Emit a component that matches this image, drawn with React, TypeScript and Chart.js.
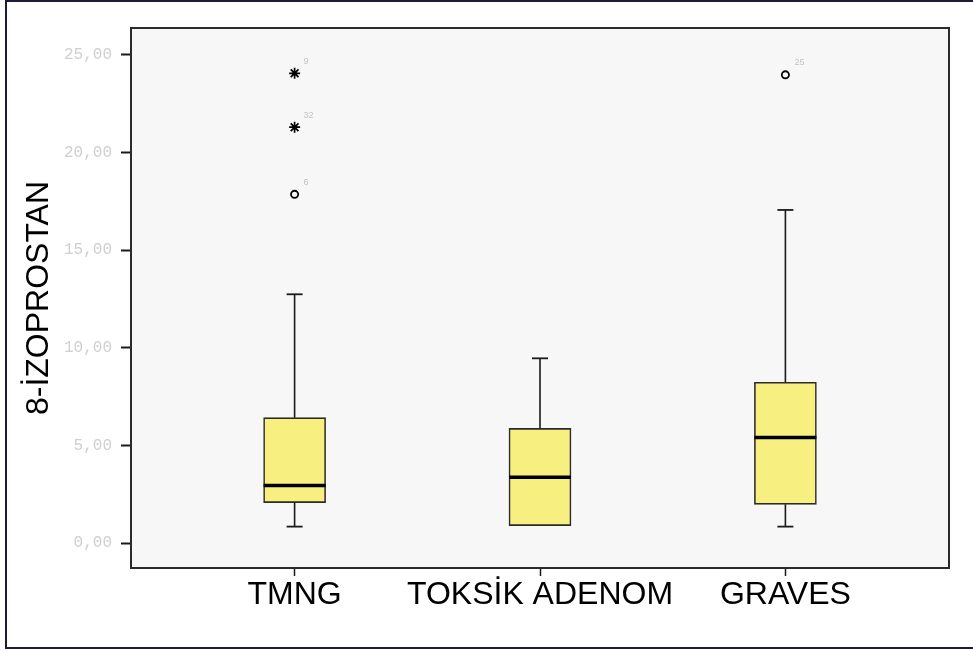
import React, { useEffect, useRef } from "react";
import { Chart, registerables } from "chart.js";

Chart.register(...registerables);

// Groups shown on the horizontal axis
const categories = ["TMNG", "TOKSİK ADENOM", "GRAVES"];

// Box-plot summary per group
const whiskerLow = [0.84, 0.89, 0.84];
const quartile1 = [2.07, 0.89, 1.98];
const medians = [2.94, 3.37, 5.41];
const quartile3 = [6.42, 5.87, 8.23];
const whiskerHigh = [12.74, 9.46, 17.06];

// Outliers (circles) and extremes (asterisks), with case numbers
const outlierGroup = [1, 3];
const outlierValue = [17.86, 23.98];
const outlierCase = ["6", "25"];
const extremeGroup = [1, 1];
const extremeValue = [24.06, 21.3];
const extremeCase = ["9", "32"];

// Value axis ticks
const yTicks = [0, 5, 10, 15, 20, 25];

const BOX_FILL = "rgb(247,240,128)";
const INK = "#1a1a1a";

const plotFrame = {
  id: "plotFrame",
  beforeDraw(chart: any) {
    const { ctx, chartArea: a } = chart;
    ctx.save();
    ctx.fillStyle = "#ffffff";
    ctx.fillRect(0, 0, chart.width, chart.height);
    ctx.fillStyle = "#f7f7f7";
    ctx.fillRect(a.left, a.top, a.right - a.left, a.bottom - a.top);
    ctx.restore();
  },
  afterDraw(chart: any) {
    const { ctx, chartArea: a } = chart;
    ctx.save();
    ctx.strokeStyle = "#2b2b2b";
    ctx.lineWidth = 2;
    ctx.strokeRect(a.left, a.top, a.right - a.left, a.bottom - a.top);
    ctx.strokeStyle = "#1c1c3a";
    ctx.lineWidth = 2;
    ctx.strokeRect(6, 1, 1000, 647);
    ctx.restore();
  },
};

const caseLabels = {
  id: "caseLabels",
  afterDatasetsDraw(chart: any) {
    const { ctx } = chart;
    ctx.save();
    ctx.font = "9px 'Liberation Sans'";
    ctx.fillStyle = "#c4c4c4";
    ctx.textAlign = "left";
    ctx.textBaseline = "middle";
    chart.data.datasets.forEach((ds: any, di: number) => {
      if (!ds.caseNumbers) return;
      const meta = chart.getDatasetMeta(di);
      meta.data.forEach((pt: any, i: number) => {
        ctx.fillText(ds.caseNumbers[i], pt.x + 9, pt.y - 12);
      });
    });
    ctx.restore();
  },
};

export default function App() {
  const ref = useRef<HTMLCanvasElement | null>(null);

  useEffect(() => {
    document.body.style.margin = "0";
    const canvas = ref.current;
    if (!canvas) return;

    const boxes = categories.map((_, i) => ({ x: i + 1, y: [quartile1[i], quartile3[i]] }));

    const whiskers: any[] = [];
    categories.forEach((_, i) => {
      whiskers.push({ x: i + 1, y: quartile3[i] }, { x: i + 1, y: whiskerHigh[i] }, { x: i + 1, y: null });
      if (whiskerLow[i] < quartile1[i]) {
        whiskers.push({ x: i + 1, y: whiskerLow[i] }, { x: i + 1, y: quartile1[i] }, { x: i + 1, y: null });
      }
    });

    const caps: any[] = [];
    categories.forEach((_, i) => {
      caps.push({ x: i + 1, y: whiskerHigh[i] });
      if (whiskerLow[i] < quartile1[i]) caps.push({ x: i + 1, y: whiskerLow[i] });
    });

    const chart = new Chart(canvas, {
      type: "bar",
      data: {
        datasets: [
          {
            type: "scatter",
            data: medians.map((m, i) => ({ x: i + 1, y: m })),
            pointStyle: "line",
            radius: 31,
            borderWidth: 3.5,
            borderColor: "#000000",
            order: 1,
          } as any,
          {
            type: "scatter",
            data: extremeValue.map((v, i) => ({ x: extremeGroup[i], y: v })),
            pointStyle: "star",
            radius: 5.5,
            borderWidth: 1.7,
            borderColor: "#000000",
            caseNumbers: extremeCase,
            order: 1,
          } as any,
          {
            type: "scatter",
            data: outlierValue.map((v, i) => ({ x: outlierGroup[i], y: v })),
            pointStyle: "circle",
            radius: 3.6,
            borderWidth: 1.8,
            borderColor: "#000000",
            backgroundColor: "rgba(0,0,0,0)",
            caseNumbers: outlierCase,
            order: 1,
          } as any,
          {
            type: "scatter",
            data: caps,
            pointStyle: "line",
            radius: 8,
            borderWidth: 1.8,
            borderColor: INK,
            order: 2,
          } as any,
          {
            type: "bar",
            data: boxes,
            backgroundColor: BOX_FILL,
            borderColor: "#2a2a2a",
            borderWidth: 1.6,
            borderSkipped: false,
            barThickness: 62,
            grouped: false,
            order: 3,
          } as any,
          {
            type: "line",
            data: whiskers,
            borderColor: INK,
            borderWidth: 1.6,
            pointRadius: 0,
            spanGaps: false,
            order: 4,
          } as any,
        ],
      },
      options: {
        animation: false,
        responsive: false,
        devicePixelRatio: 1,
        layout: { autoPadding: false, padding: { top: 28, right: 24, left: 0, bottom: 0 } },
        plugins: { legend: { display: false }, tooltip: { enabled: false } },
        scales: {
          x: {
            type: "linear",
            min: 1 / 3,
            max: 3 + 2 / 3,
            offset: false,
            afterBuildTicks: (s: any) => {
              s.ticks = categories.map((_, i) => ({ value: i + 1 }));
            },
            afterFit: (s: any) => {
              s.height = 82;
            },
            border: { display: false },
            grid: {
              offset: false,
              drawOnChartArea: false,
              drawTicks: true,
              tickLength: 8,
              tickColor: INK,
              tickWidth: 1.5,
            },
            ticks: {
              autoSkip: false,
              maxRotation: 0,
              padding: 0,
              color: "#000000",
              font: { family: "'Liberation Sans', Arial, sans-serif", size: 32 },
              callback: (v: any) => categories[Number(v) - 1] ?? "",
            },
          },
          y: {
            type: "linear",
            min: -1.28,
            max: 26.38,
            afterBuildTicks: (s: any) => {
              s.ticks = yTicks.map((v) => ({ value: v }));
            },
            afterFit: (s: any) => {
              s.width = 131;
            },
            border: { display: false },
            grid: {
              drawOnChartArea: false,
              drawTicks: true,
              tickLength: 10,
              tickColor: INK,
              tickWidth: 2,
            },
            ticks: {
              padding: 9,
              color: "#cfcfcf",
              font: { family: "'Liberation Mono', monospace", size: 16 },
              callback: (v: any) => Number(v).toFixed(2).replace(".", ","),
            },
            title: {
              display: true,
              text: "8-İZOPROSTAN",
              color: "#000000",
              font: { family: "'Liberation Sans', Arial, sans-serif", size: 32 },
              padding: { top: 20, bottom: 0 },
            },
          },
        },
      },
      plugins: [plotFrame, caseLabels],
    });

    return () => chart.destroy();
  }, []);

  return (
    <div style={{ width: 973, height: 650 }}>
      <canvas ref={ref} width={973} height={650} style={{ display: "block", width: 973, height: 650 }} />
    </div>
  );
}
